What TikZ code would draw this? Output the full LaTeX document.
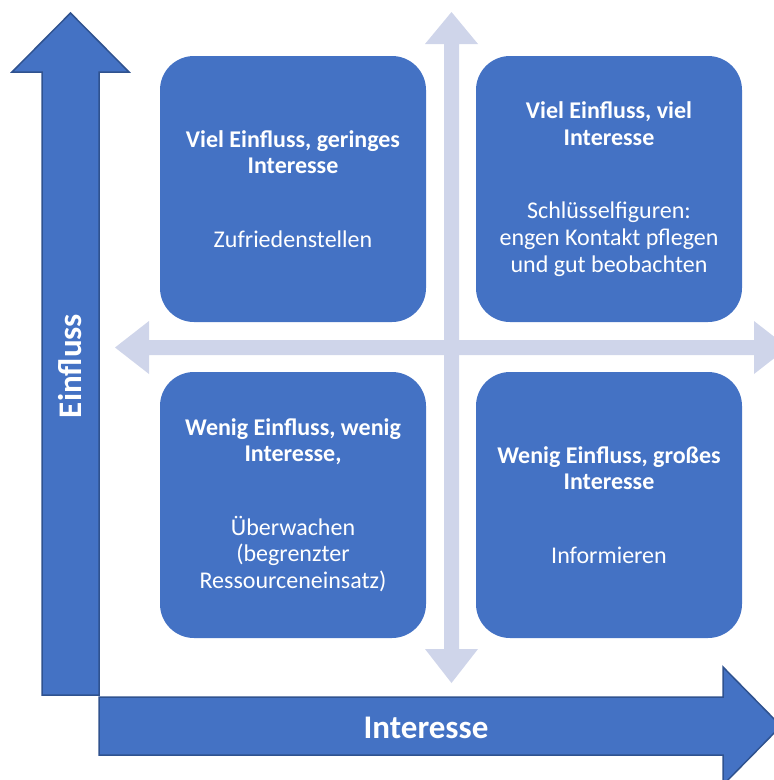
\documentclass[tikz,border=0pt]{standalone}
\usepackage{fontspec}
\setmainfont{Carlito}
\definecolor{boxblue}{HTML}{4472C4}
\definecolor{boxline}{HTML}{2F528F}
\definecolor{crossgray}{HTML}{CFD5EA}

\begin{document}
\begin{tikzpicture}[x=1pt,y=-1pt]
	\tikzstyle{quad}=[rounded corners=34pt,fill=boxblue,text=white,minimum width=266pt,minimum height=266pt,inner sep=0pt,align=center,font=\fontsize{24}{26.6}\selectfont]
	\tikzstyle{bigarrow}=[fill=boxblue,draw=boxline,line width=1.5pt]
	\tikzstyle{cross}=[fill=crossgray]
	\tikzstyle{axislabel}=[text=white,font=\bfseries\fontsize{33}{36}\selectfont]

	\useasboundingbox (0,0) rectangle (774,780);
	\clip (0,0) rectangle (774,780);

	% light cross in the middle
	\path[cross] (444,640) -- (444,44) -- (425,44) -- (451.5,12) -- (478,44) -- (459,44)
		-- (459,649) -- (478,649) -- (451.5,683) -- (425,649) -- (444,649) -- cycle;
	\path[cross] (149,340) -- (754,340) -- (754,321) -- (788,347.5) -- (754,374) -- (754,355)
		-- (149,355) -- (149,374) -- (115,347.5) -- (149,321) -- cycle;

	% axes
	\path[bigarrow] (42,695) -- (42,72) -- (12,72) -- (70.5,13) -- (129,72) -- (99,72) -- (99,695) -- cycle;
	\path[bigarrow] (99,697) -- (723,697) -- (723,667) -- (781,726) -- (723,785) -- (723,755) -- (99,755) -- cycle;
	\node [axislabel] (interesse) at (426,728) {Interesse};
	\node [axislabel,rotate=90] (einfluss) at (70,366) {Einfluss};

	% quadrants
	\node [quad] (hilo) at (293,189) {\textbf{Viel Einfluss, geringes}\\\textbf{Interesse}\\[47pt]Zufriedenstellen};
	\node [quad] (hihi) at (609,189) {\textbf{Viel Einfluss, viel}\\\textbf{Interesse}\\[47pt]Schlüsselfiguren:\\engen Kontakt pflegen\\und gut beobachten};
	\node [quad] (lolo) at (293,505) {\textbf{Wenig Einfluss, wenig}\\\textbf{Interesse,}\\[47pt]Überwachen\\(begrenzter\\Ressourceneinsatz)};
	\node [quad] (lohi) at (609,505) {\textbf{Wenig Einfluss, großes}\\\textbf{Interesse}\\[47pt]Informieren};

\end{tikzpicture}
\end{document}
